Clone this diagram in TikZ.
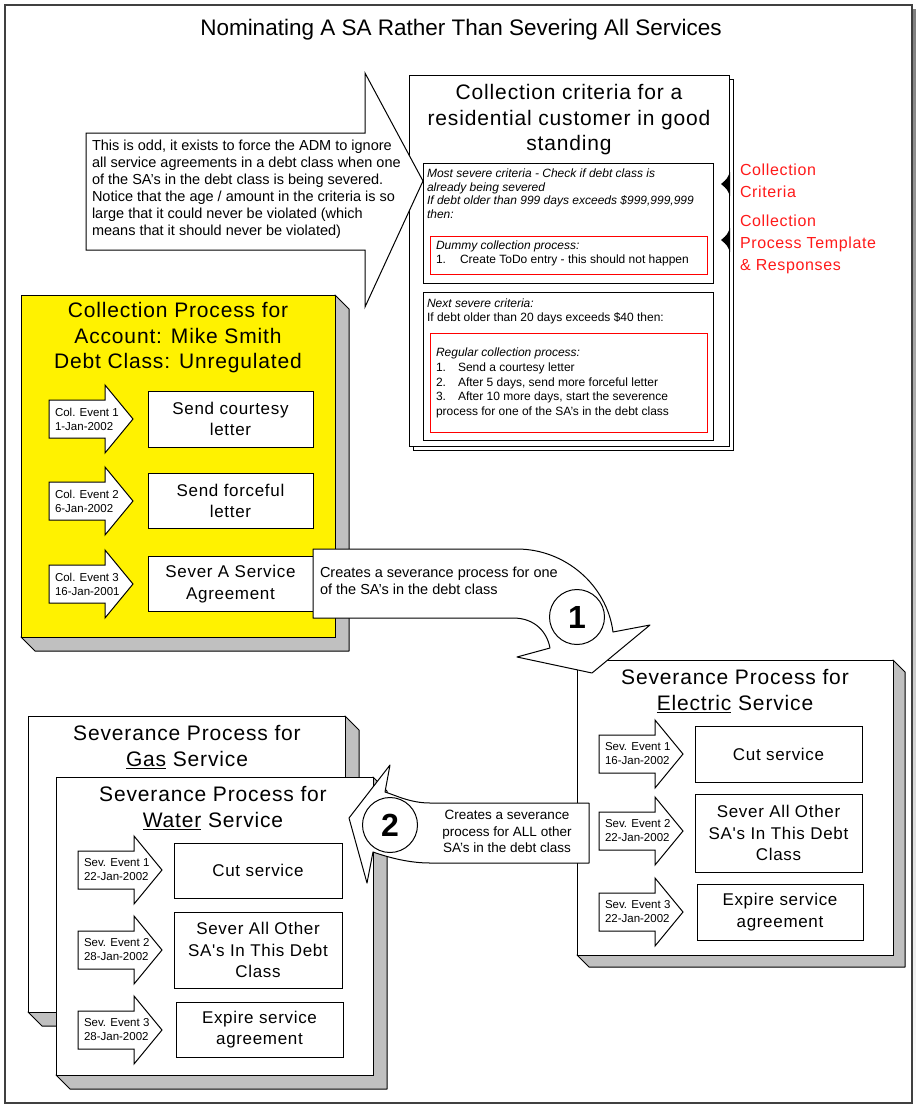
\documentclass[tikz,border=0pt]{standalone}
\usepackage{fontspec}
\setmainfont{Liberation Sans}
\newfontfamily\vis[LetterSpace=4]{Liberation Sans}
\definecolor{shade}{HTML}{C0C0C0}
\definecolor{framec}{HTML}{404040}
\definecolor{lblred}{HTML}{FF1A1A}
\tikzset{
  every node/.style={inner sep=0pt,outer sep=0pt},
  thin line/.style={draw=black,line width=1pt,line join=miter},
  wshape/.style={thin line,fill=white},
  vtitle/.style={align=center,font=\vis\fontsize{21}{25.5}\selectfont},
  evbox/.style={wshape,align=center,font=\vis\fontsize{17}{21.5}\selectfont},
  evlab/.style={align=left,font=\fontsize{11.5}{14}\selectfont},
  small/.style={align=left,font=\fontsize{12}{13.6}\selectfont},
  redlab/.style={align=left,text=lblred,font=\vis\fontsize{16}{22}\selectfont},
  callt/.style={align=left,font=\fontsize{14.5}{17}\selectfont},
  numc/.style={circle,thin line,fill=white,minimum size=55pt,font=\fontsize{32}{32}\selectfont\bfseries},
}
% 3D box: x1 y1 x2 y2 depth fill name
\newcommand\tdbox[7]{%
  \filldraw[fill=shade,draw=black,line width=1pt,line join=round]
    (#3,#2) -- (#3+#5,#2+#5) -- (#3+#5,#4+#5) -- (#1+#5,#4+#5) -- (#1,#4) -- (#3,#4) -- cycle;
  \draw[wshape,fill=#6] (#1,#2) rectangle (#3,#4);
  \coordinate (#7) at (#1,#2);}
% event block arrow: name x y line1 line2
\newcommand\evarrow[5]{%
  \draw[wshape] (#2,#3-19) -- (#2+56,#3-19) -- (#2+56,#3-34) -- (#2+84,#3)
     -- (#2+56,#3+34) -- (#2+56,#3+19) -- (#2,#3+19) -- cycle;
  \node[evlab,anchor=west] (#1) at (#2+6,#3) {#4\\#5};}
\begin{document}
\begin{tikzpicture}[x=1pt,y=-1pt]
\useasboundingbox (0,0) rectangle (916,1109);
% outer frame
\fill[shade] (9,9) rectangle (916,1108);
\draw[draw=framec,line width=1.6pt,fill=white] (5,5) rectangle (912,1103);
\node[font=\fontsize{22.5}{24}\selectfont] (title) at (461,30) {Nominating A SA Rather Than Severing All Services};

% collection criteria sheet
\draw[wshape] (413,79) rectangle (733,450);
\draw[wshape] (409,75) rectangle (729,446);
\node[vtitle] (crit) at (569,120) {Collection criteria for a\\residential customer in good\\standing};
\draw[thin line] (423,163) rectangle (713,283);
\node[small,anchor=north west] (c1) at (427,169) {\itshape Most severe criteria - Check if debt class is\\\itshape already being severed\\\itshape If debt older than 999 days exceeds \$999,999,999\\\itshape then:};
\draw[draw=red,line width=1pt] (430,236) rectangle (707,274);
\node[small,anchor=north west] (c2) at (436,241) {\itshape Dummy collection process:\\1.\hspace{14pt}Create ToDo entry - this should not happen};
\draw[thin line] (423,292) rectangle (713,440);
\node[small,anchor=north west] (c3) at (427,299) {\itshape Next severe criteria:\\If debt older than 20 days exceeds \$40 then:};
\draw[draw=red,line width=1pt] (430,333) rectangle (707,432);
\node[small,anchor=north west,font=\fontsize{12}{14.7}\selectfont] (c4) at (436,348) {\itshape Regular collection process:\\1.\hspace{12pt}Send a courtesy letter\\2.\hspace{12pt}After 5 days, send more forceful letter\\3.\hspace{12pt}After 10 more days, start the severence\\process for one of the SA's in the debt class};
% pointers and red labels
\fill[black] (730,172) .. controls (727,179) .. (721,184) .. controls (727,189) .. (730,196) -- cycle;
\fill[black] (730,228) .. controls (727,235) .. (721,240) .. controls (727,245) .. (730,252) -- cycle;
\node[redlab,anchor=north west] (l1) at (740,164) {Collection\\Criteria};
\node[redlab,anchor=north west] (l2) at (740,215) {Collection\\Process Template\\\& Responses};

% big note arrow
\draw[wshape] (86,133) -- (365,133) -- (365,73) -- (423,181) -- (365,307) -- (365,250) -- (86,250) -- cycle;
\node[callt,anchor=north west] (note) at (92,140) {This is odd, it exists to force the ADM to ignore\\all service agreements in a debt class when one\\of the SA's in the debt class is being severed.\\Notice that the age / amount in the criteria is so\\large that it could never be violated (which\\means that it should never be violated)};

% collection process (yellow)
\tdbox{21}{295}{335}{637}{14}{yellow}{yb}
\node[vtitle] (ytitle) at (178,338) {Collection Process for\\Account: Mike Smith\\Debt Class: Unregulated};
\evarrow{ya1}{49}{419}{Col. Event 1}{1-Jan-2002}
\evarrow{ya2}{49}{501}{Col. Event 2}{6-Jan-2002}
\evarrow{ya3}{49}{584}{Col. Event 3}{16-Jan-2001}
\node[evbox,minimum width=165pt,minimum height=56pt] (yb1) at (230.5,419) {Send courtesy\\letter};
\node[evbox,minimum width=165pt,minimum height=55pt] (yb2) at (230.5,501) {Send forceful\\letter};
\node[evbox,minimum width=165pt,minimum height=55pt] (yb3) at (230.5,584) {Sever A Service\\Agreement};

% gas
\tdbox{28}{716}{345}{1012}{14}{white}{gb}
\node[vtitle] (gtitle) at (187,747) {Severance Process for\\\underline{Gas} Service};
% water
\tdbox{56}{777}{373}{1075}{14}{white}{wb}
\node[vtitle] (wtitle) at (213,808) {Severance Process for\\\underline{Water} Service};
\evarrow{wa1}{78}{870}{Sev. Event 1}{22-Jan-2002}
\evarrow{wa2}{78}{950}{Sev. Event 2}{28-Jan-2002}
\evarrow{wa3}{78}{1030}{Sev. Event 3}{28-Jan-2002}
\node[evbox,minimum width=168pt,minimum height=55pt] (wb1) at (258,870.5) {Cut service};
\node[evbox,minimum width=168pt,minimum height=76pt] (wb2) at (258,950) {Sever All Other\\SA's In This Debt\\Class};
\node[evbox,minimum width=167pt,minimum height=55pt] (wb3) at (259.5,1029.5) {Expire service\\agreement};

% electric
\tdbox{577}{660}{893}{955}{12}{white}{eb}
\node[vtitle] (etitle) at (735,691) {Severance Process for\\\underline{Electric} Service};
\evarrow{ea1}{599}{754}{Sev. Event 1}{16-Jan-2002}
\evarrow{ea2}{599}{831}{Sev. Event 2}{22-Jan-2002}
\evarrow{ea3}{599}{912}{Sev. Event 3}{22-Jan-2002}
\node[evbox,minimum width=167pt,minimum height=56pt] (eb1) at (778.5,754) {Cut service};
\node[evbox,minimum width=167pt,minimum height=78pt] (eb2) at (778.5,833) {Sever All Other\\SA's In This Debt\\Class};
\node[evbox,minimum width=166pt,minimum height=56pt] (eb3) at (780,912) {Expire service\\agreement};

% curved arrow 1
\draw[wshape,line join=round] (313,549) -- (517,549) .. controls (565,549) and (607,585) .. (613,632)
  -- (650,625) -- (592,673) -- (517,657) -- (550,648) .. controls (547,632) and (535,618) .. (513,618)
  -- (313,618) -- cycle;
\node[callt,anchor=north west] (t1) at (320,567) {Creates a severance process for one\\of the SA's in the debt class};
\node[numc] (n1) at (577,617) {1};

% curved arrow 2
\draw[wshape,line join=round] (589,803) -- (430,803) .. controls (410,803) and (395,795) .. (385,792)
  -- (390,765) -- (349,818) -- (367,883) -- (373,852) .. controls (390,858) and (410,863) .. (430,863)
  -- (589,863) -- cycle;
\node[align=center,font=\fontsize{13.5}{16.5}\selectfont] (t2) at (507,831.5) {Creates a severance\\process for ALL other\\SA's in the debt class};
\node[numc] (n2) at (390,825) {2};
\end{tikzpicture}
\end{document}
